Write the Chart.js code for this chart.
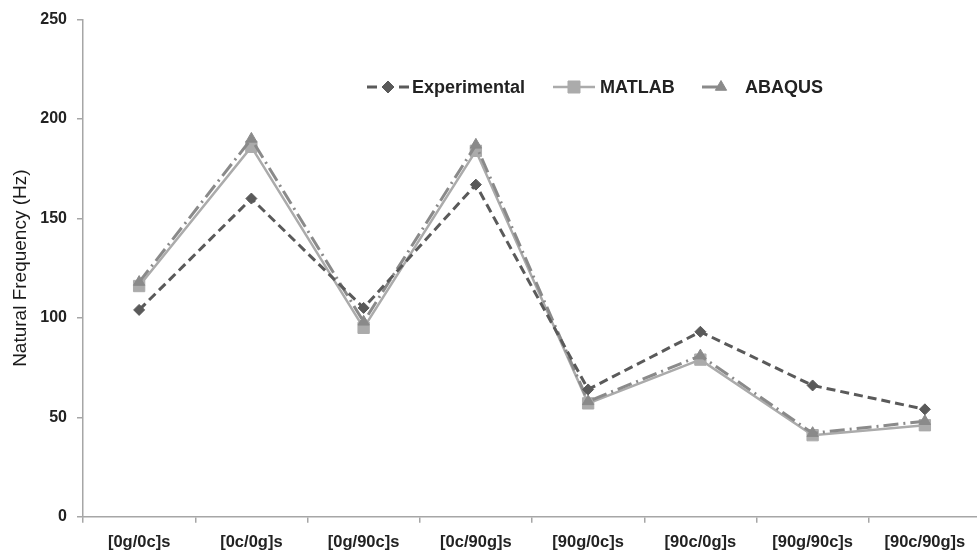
<!DOCTYPE html>
<html lang="en">
<head>
  <meta charset="UTF-8" />
  <title>Natural Frequency</title>
  <script src="https://cdn.jsdelivr.net/npm/chart.js"></script>
  <style>
    html, body {
      margin: 0;
      padding: 0;
      background: #fff;
      overflow: hidden;
    }
    #wrap {
      width: 990px;
      height: 554px;
    }
  </style>
</head>
<body>
  <div id="wrap"><canvas id="chart"></canvas></div>

  <script>
    // data
    const categories = ['[0g/0c]s', '[0c/0g]s', '[0g/90c]s', '[0c/90g]s', '[90g/0c]s', '[90c/0g]s', '[90g/90c]s', '[90c/90g]s'];
    const experimental = [104, 160, 105, 167, 64, 93, 66, 54];
    const matlab = [116, 186, 95, 184, 57, 79, 41, 46];
    const abaqus = [118, 190, 98, 187, 58, 81, 42, 48];
    const yTicks = [0, 50, 100, 150, 200, 250];

    const FONT = "'Liberation Sans', Arial, sans-serif";
    const AXIS = '#a6a6a6';

    const series = [
      { label: 'Experimental', data: experimental, color: '#5a5a5a', dash: [9, 5], style: 'rectRot', r: 5.5, width: 3, order: 0 },
      { label: 'MATLAB', data: matlab, color: '#ababab', dash: [], style: 'rect', r: 8, width: 2.5, order: 2 },
      { label: 'ABAQUS', data: abaqus, color: '#8a8a8a', dash: [15, 5, 2, 5], style: 'triangle', r: 6.5, width: 3, order: 1 }
    ];

    // legend drawn as line + marker like the original
    const lineLegend = {
      id: 'lineLegend',
      afterDraw(chart) {
        const ctx = chart.ctx;
        const y = 87;
        const items = [
          { s: series[0], x0: 367, x1: 409, mx: 388, dash: [10, 6], r: 6 },
          { s: series[1], x0: 553, x1: 595, mx: 574, dash: [], r: 8.5 },
          { s: series[2], x0: 702, x1: 720, mx: 721, dash: [], r: 6.5 }
        ];
        const textX = [412, 600, 745];
        ctx.save();
        items.forEach((it, i) => {
          ctx.strokeStyle = it.s.color;
          ctx.fillStyle = it.s.color;
          ctx.lineWidth = it.s.width;
          ctx.setLineDash(it.dash);
          ctx.beginPath();
          ctx.moveTo(it.x0, y);
          ctx.lineTo(it.x1, y);
          ctx.stroke();
          ctx.setLineDash([]);
          ctx.lineWidth = 1;
          Chart.helpers.drawPoint(ctx, { pointStyle: it.s.style, radius: it.r, borderWidth: 1 }, it.mx, y);
          ctx.fillStyle = '#222';
          ctx.font = 'bold 18px ' + FONT;
          ctx.textBaseline = 'middle';
          ctx.textAlign = 'left';
          ctx.fillText(it.s.label, textX[i], y + 1);
        });
        ctx.restore();
      }
    };

    new Chart(document.getElementById('chart'), {
      type: 'line',
      data: {
        labels: categories,
        datasets: series.map(s => ({
          label: s.label,
          data: s.data,
          borderColor: s.color,
          backgroundColor: s.color,
          borderWidth: s.width,
          borderDash: s.dash,
          pointStyle: s.style,
          pointRadius: s.r,
          pointBorderWidth: 1,
          tension: 0,
          order: s.order
        }))
      },
      options: {
        responsive: true,
        maintainAspectRatio: false,
        animation: false,
        layout: { padding: { top: 19, right: 7, bottom: 0, left: 0 } },
        plugins: {
          legend: { display: false },
          tooltip: { enabled: false }
        },
        scales: {
          x: {
            type: 'category',
            offset: true,
            grid: { offset: true, drawOnChartArea: false, color: AXIS, tickLength: 6, lineWidth: 1.5 },
            border: { color: AXIS, width: 1.5 },
            ticks: { color: '#222', font: { family: FONT, size: 16.5, weight: 'bold' }, padding: 10, maxRotation: 0, autoSkip: false },
            afterFit(scale) { scale.height = 37.3; }
          },
          y: {
            min: 0,
            max: 250,
            afterBuildTicks(scale) { scale.ticks = yTicks.map(v => ({ value: v })); },
            grid: { drawOnChartArea: false, color: AXIS, tickLength: 6, lineWidth: 1.5 },
            border: { color: AXIS, width: 1.5 },
            ticks: { color: '#222', font: { family: FONT, size: 16, weight: 'bold' }, padding: 10 },
            title: { display: true, text: 'Natural Frequency (Hz)', color: '#1a1a1a', font: { family: FONT, size: 19 }, padding: { top: 9, bottom: 0 } },
            afterFit(scale) { scale.width = 83; }
          }
        }
      },
      plugins: [lineLegend]
    });
  </script>
</body>
</html>
